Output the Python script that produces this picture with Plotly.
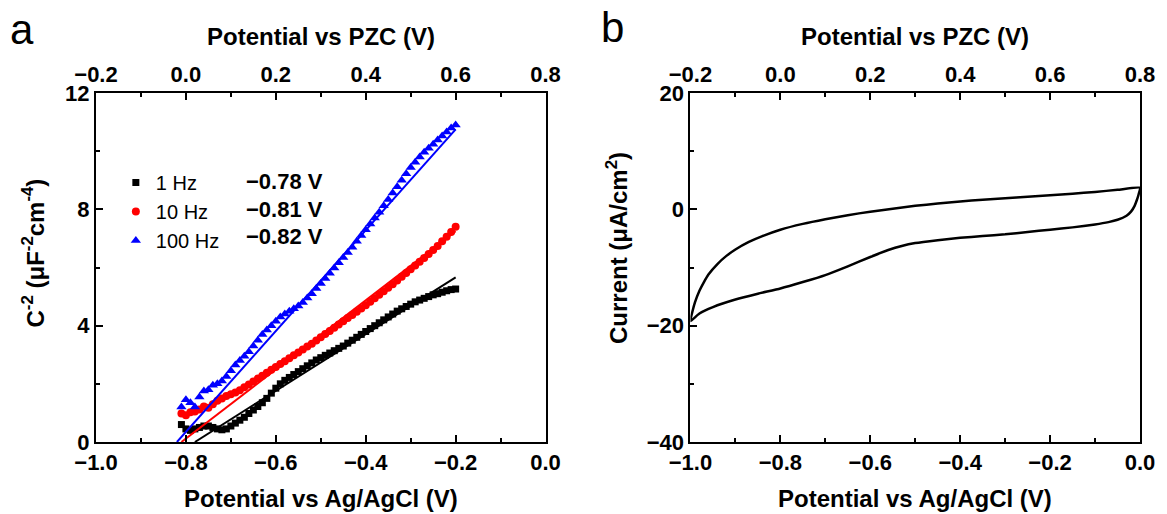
import plotly.graph_objects as go

# ---------------- Panel a data (Mott-Schottky) ----------------
pot_a = [-0.81, -0.80, -0.79, -0.78, -0.77, -0.76, -0.75, -0.74, -0.73, -0.72,
         -0.71, -0.70, -0.69, -0.68, -0.67, -0.66, -0.65, -0.64, -0.63, -0.62,
         -0.61, -0.60, -0.59, -0.58, -0.57, -0.56, -0.55, -0.54, -0.53, -0.52,
         -0.51, -0.50, -0.49, -0.48, -0.47, -0.46, -0.45, -0.44, -0.43, -0.42,
         -0.41, -0.40, -0.39, -0.38, -0.37, -0.36, -0.35, -0.34, -0.33, -0.32,
         -0.31, -0.30, -0.29, -0.28, -0.27, -0.26, -0.25, -0.24, -0.23, -0.22,
         -0.21, -0.20]

c2_1hz = [0.60, 0.45, 0.40, 0.45, 0.50, 0.55, 0.55, 0.50, 0.45, 0.42,
          0.45, 0.55, 0.65, 0.75, 0.85, 0.98, 1.10, 1.22, 1.35, 1.50,
          1.68, 1.85, 2.00, 2.12, 2.22, 2.32, 2.42, 2.52, 2.62, 2.72,
          2.82, 2.90, 2.98, 3.06, 3.14, 3.22, 3.30, 3.40, 3.50, 3.60,
          3.70, 3.80, 3.90, 4.00, 4.10, 4.20, 4.30, 4.40, 4.50, 4.58,
          4.66, 4.74, 4.82, 4.88, 4.94, 5.00, 5.06, 5.10, 5.15, 5.20,
          5.24, 5.26]

c2_10hz = [0.98, 0.92, 1.02, 1.05, 1.12, 1.22, 1.18, 1.30, 1.42, 1.50,
           1.58, 1.64, 1.70, 1.78, 1.88, 1.98, 2.08, 2.18, 2.28, 2.38,
           2.48, 2.58, 2.68, 2.78, 2.88, 2.98, 3.08, 3.18, 3.28, 3.38,
           3.49, 3.60, 3.71, 3.82, 3.93, 4.04, 4.15, 4.26, 4.37, 4.48,
           4.59, 4.70, 4.82, 4.94, 5.06, 5.18, 5.30, 5.42, 5.55, 5.68,
           5.81, 5.94, 6.07, 6.20, 6.33, 6.46, 6.60, 6.74, 6.90, 7.06,
           7.22, 7.40]

c2_100hz = [1.20, 1.45, 1.35, 1.20, 1.55, 1.75, 1.80, 1.95, 2.00, 2.10,
            2.25, 2.45, 2.65, 2.80, 2.95, 3.10, 3.30, 3.50, 3.70, 3.85,
            4.00, 4.15, 4.30, 4.40, 4.50, 4.58, 4.68, 4.80, 4.95, 5.10,
            5.28, 5.45, 5.62, 5.80, 5.98, 6.16, 6.34, 6.52, 6.70, 6.90,
            7.10, 7.30, 7.50, 7.70, 7.90, 8.12, 8.34, 8.56, 8.78, 9.00,
            9.22, 9.44, 9.62, 9.80, 9.96, 10.10, 10.24, 10.38, 10.52, 10.66,
            10.80, 10.90]

# linear fits
fit_x_1hz = [-0.78, -0.20]
fit_y_1hz = [0.0, 5.66]
fit_x_10hz = [-0.81, -0.20]
fit_y_10hz = [0.0, 7.25]
fit_x_100hz = [-0.82, -0.20]
fit_y_100hz = [0.0, 10.75]

series_names = ["1 Hz", "10 Hz", "100 Hz"]
fb_labels = ["\u22120.78 V", "\u22120.81 V", "\u22120.82 V"]

# ---------------- Panel b data (cyclic voltammogram) ----------------
cv_fwd_x = [-1.00, -0.995, -0.99, -0.98, -0.97, -0.96, -0.94, -0.92, -0.90, -0.87,
            -0.84, -0.80, -0.75, -0.70, -0.65, -0.60, -0.55, -0.50, -0.45, -0.40,
            -0.35, -0.30, -0.25, -0.20, -0.15, -0.10, -0.05, 0.00]
cv_fwd_y = [-19.2, -17.4, -16.0, -14.0, -12.5, -11.2, -9.4, -8.0, -6.9, -5.6,
            -4.6, -3.5, -2.5, -1.7, -1.0, -0.4, 0.1, 0.6, 1.0, 1.35,
            1.65, 1.9, 2.15, 2.4, 2.7, 3.0, 3.35, 3.7]
cv_rev_x = [0.00, -0.003, -0.007, -0.012, -0.02, -0.03, -0.05, -0.07, -0.10, -0.15,
            -0.20, -0.25, -0.30, -0.35, -0.40, -0.45, -0.50, -0.53, -0.56, -0.60,
            -0.65, -0.70, -0.75, -0.80, -0.85, -0.90, -0.95, -0.98, -1.00]
cv_rev_y = [3.7, 2.6, 1.6, 0.6, -0.4, -1.1, -1.8, -2.2, -2.6, -3.1,
            -3.5, -3.9, -4.3, -4.6, -4.9, -5.3, -5.8, -6.3, -7.0, -8.2,
            -9.8, -11.3, -12.5, -13.6, -14.5, -15.5, -16.8, -17.9, -19.2]

FONT = "Arial, Liberation Sans, sans-serif"

fig = go.Figure()

colors = ["#000000", "#ff0000", "#0000ff"]
symbols = ["square", "circle", "triangle-up"]
msizes = [7, 8, 9]
data_sets = [c2_1hz, c2_10hz, c2_100hz]
fits = [(fit_x_1hz, fit_y_1hz), (fit_x_10hz, fit_y_10hz), (fit_x_100hz, fit_y_100hz)]

for name, col, sym, ms, ys in zip(series_names, colors, symbols, msizes, data_sets):
    fig.add_trace(go.Scatter(x=pot_a, y=ys, mode="markers", name=name,
                             marker=dict(symbol=sym, size=ms, color=col, line=dict(width=0)),
                             xaxis="x", yaxis="y"))
for (fx, fy), col in zip(fits, colors):
    fig.add_trace(go.Scatter(x=fx, y=fy, mode="lines", showlegend=False,
                             line=dict(color=col, width=2), xaxis="x", yaxis="y"))

cv_x = cv_fwd_x + cv_rev_x[1:]
cv_y = cv_fwd_y + cv_rev_y[1:]
fig.add_trace(go.Scatter(x=cv_x, y=cv_y, mode="lines", showlegend=False,
                         line=dict(color="black", width=2.5, shape="spline", smoothing=0.5),
                         xaxis="x2", yaxis="y2"))

# placeholder traces so the top (PZC) axes are drawn
fig.add_trace(go.Scatter(x=[0.3], y=[None], mode="markers", showlegend=False,
                         hoverinfo="skip", xaxis="x3", yaxis="y"))
fig.add_trace(go.Scatter(x=[0.3], y=[None], mode="markers", showlegend=False,
                         hoverinfo="skip", xaxis="x4", yaxis="y2"))

# geometry in pixels
W, H = 1167, 514
L, R, T, B = 96, 1148, 93, 442
pw = R - L
ph = B - T
def px(x):
    return (x - L) / pw
def py(y):
    return (B - y) / ph

dom_a = [0, px(549)]
dom_b = [px(695), 1]

tickfont = dict(family=FONT, size=22, color="black", weight="bold")

def xax(domain, rng, side="bottom", anchor="y", overlay=None):
    d = dict(domain=domain, range=rng, side=side, anchor=anchor,
             showline=True, linecolor="black", linewidth=2,
             ticks="inside", ticklen=7, tickwidth=1.5, tickcolor="black",
             dtick=0.2, tick0=0, tickformat=".1f",
             minor=dict(ticks="inside", ticklen=4, tickwidth=1.5, tickcolor="black", dtick=0.1),
             showgrid=False, zeroline=False, tickfont=tickfont, fixedrange=True)
    if overlay:
        d["overlaying"] = overlay
    return d

def yax(domain_anchor, rng, dtick, minor_dtick):
    return dict(range=rng, anchor=domain_anchor, domain=[0, 1],
                showline=True, linecolor="black", linewidth=2, mirror=True,
                ticks="inside", ticklen=7, tickwidth=1.5, tickcolor="black",
                dtick=dtick, tick0=0,
                minor=dict(ticks="inside", ticklen=4, tickwidth=1.5, tickcolor="black", dtick=minor_dtick),
                showgrid=False, zeroline=False, tickfont=tickfont, fixedrange=True)

fig.update_layout(
    width=W, height=H,
    margin=dict(l=L, r=W - R, t=T, b=H - B),
    paper_bgcolor="white", plot_bgcolor="white",
    font=dict(family=FONT, color="black"),
    xaxis=xax(dom_a, [-1.0, 0.0], anchor="y"),
    xaxis3=xax(dom_a, [-0.2, 0.8], side="top", anchor="y", overlay="x"),
    yaxis=yax("x", [0, 12], 4, 2),
    xaxis2=xax(dom_b, [-1.0, 0.0], anchor="y2"),
    xaxis4=xax(dom_b, [-0.2, 0.8], side="top", anchor="y2", overlay="x2"),
    yaxis2=yax("x2", [-40, 20], 20, 10),
    legend=dict(x=px(116), y=py(163), xanchor="left", yanchor="top",
                bgcolor="rgba(0,0,0,0)", font=dict(family=FONT, size=20, color="black"),
                tracegroupgap=0, itemwidth=30),
    showlegend=True,
)

ann = []
def add_text(text, x, y, size=24, bold=True, angle=0, xanchor="center", yanchor="middle"):
    ann.append(dict(text=text, x=px(x), y=py(y), xref="paper", yref="paper",
                    showarrow=False, textangle=angle, xanchor=xanchor, yanchor=yanchor,
                    font=dict(family=FONT, size=size, color="black",
                              weight="bold" if bold else "normal")))

# axis titles
add_text("Potential vs PZC (V)", (L + 549) / 2, 36)
add_text("Potential vs PZC (V)", (695 + R) / 2, 36)
add_text("Potential vs Ag/AgCl (V)", (L + 549) / 2, 498)
add_text("Potential vs Ag/AgCl (V)", (695 + R) / 2, 498)
add_text("C<sup>-2</sup> (μF<sup>-2</sup>cm<sup>-4</sup>)", 33, 253, angle=-90)
add_text("Current (μA/cm<sup>2</sup>)", 621, 248, angle=-90)
# panel letters
add_text("a", 21, 30, size=42, bold=False)
add_text("b", 616, 28, size=42, bold=False)
# flat-band potentials next to legend
for lab, yy in zip(fb_labels, [181, 209, 237]):
    add_text(lab, 245, yy, size=22, xanchor="left")

fig.update_layout(annotations=ann)

fig.write_html("out.html")
